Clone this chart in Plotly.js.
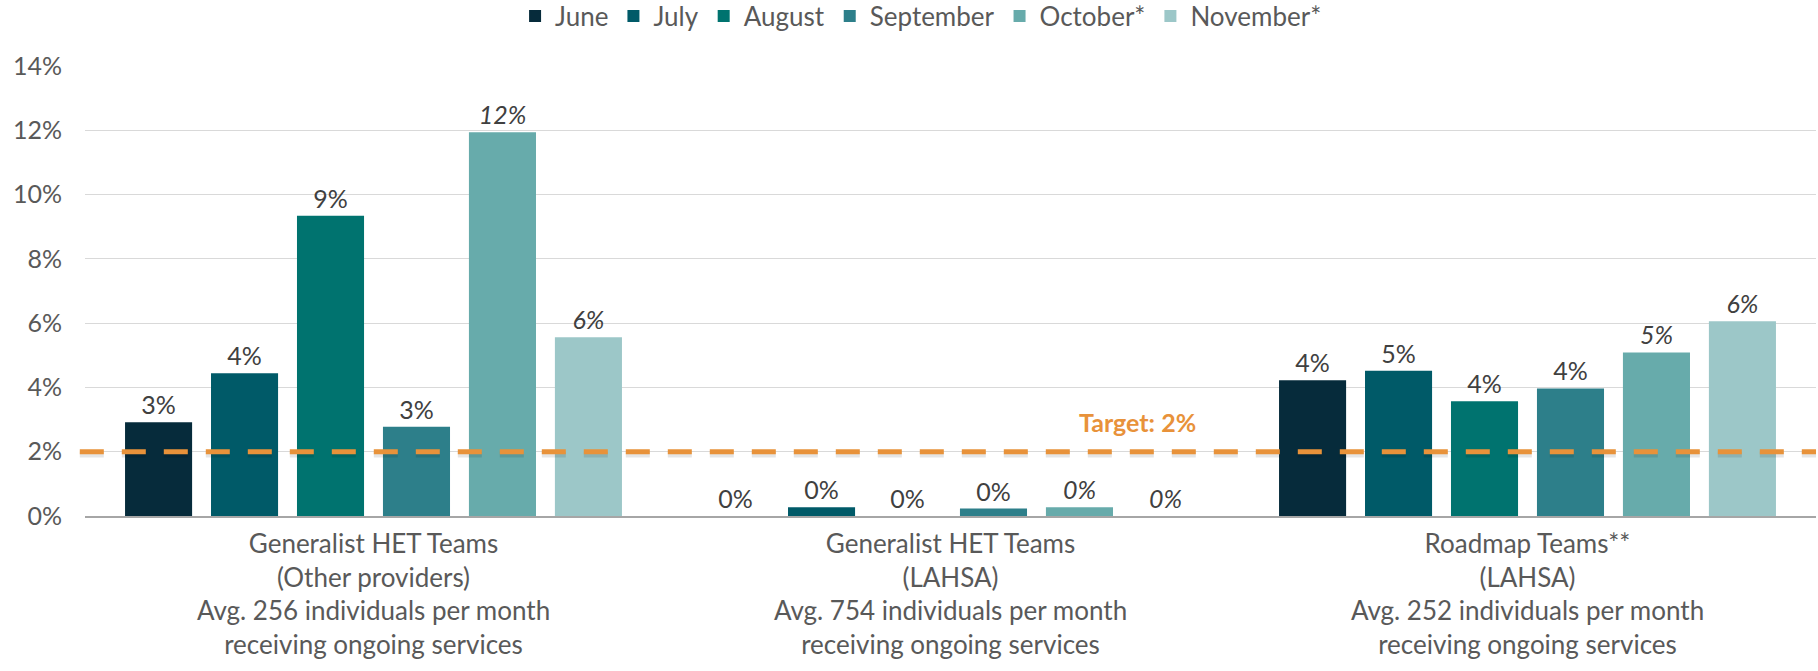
<!DOCTYPE html>
<html>
<head>
<meta charset="utf-8">
<script src="https://cdn.plot.ly/plotly-3.0.1.min.js"></script>
<style>html,body{margin:0;padding:0;background:#fff;}#chart{width:1818px;height:671px;}</style>
</head>
<body>
<div id="chart"></div>
<script>
// ---- data ----
const categories = [
  "Generalist HET Teams<br>(Other providers)<br>Avg. 256 individuals per month<br>receiving ongoing services",
  "Generalist HET Teams<br>(LAHSA)<br>Avg. 754 individuals per month<br>receiving ongoing services",
  "Roadmap Teams**<br>(LAHSA)<br>Avg. 252 individuals per month<br>receiving ongoing services"
];
const months = ["June", "July", "August", "September", "October*", "November*"];
const june      = [2.92, 0.00, 4.22];
const july      = [4.44, 0.27, 4.52];
const august    = [9.34, 0.00, 3.57];
const september = [2.78, 0.23, 3.97];
const october   = [11.94, 0.27, 5.09];
const november  = [5.56, 0.00, 6.06];
const target = 2;
const targetLabel = "Target: 2%";
const yTicks = [0, 2, 4, 6, 8, 10, 12, 14];

// ---- styles ----
const colors = ["#062B3B", "#005A68", "#00736F", "#2D7F8A", "#67ABAB", "#9CC7C8"];
const italic = [false, false, false, false, true, true];
const series = [june, july, august, september, october, november];
const FONT = "Lato, 'Source Sans Pro', 'Noto Sans', sans-serif";

const traces = series.map((vals, i) => ({
  type: "bar",
  name: months[i],
  x: categories,
  y: vals,
  marker: {color: colors[i]},
  texttemplate: "%{y:.0f}%",
  textposition: "outside",
  cliponaxis: false,
  textfont: {family: FONT, size: 25, color: "#404040", style: italic[i] ? "italic" : "normal"},
  hoverinfo: "skip"
}));

const layout = {
  width: 1818,
  height: 671,
  margin: {l: 85, r: 2, t: 66, b: 155, autoexpand: false},
  paper_bgcolor: "#ffffff",
  plot_bgcolor: "#ffffff",
  font: {family: FONT, size: 25, color: "#595959"},
  barmode: "group",
  bargap: 0.106,
  bargroupgap: 0.22,
  showlegend: true,
  legend: {
    orientation: "h",
    x: 0.483, xanchor: "center",
    y: 1.111, yref: "paper", yanchor: "middle",
    font: {family: FONT, size: 26, color: "#595959"},
    itemclick: false, itemdoubleclick: false,
    traceorder: "normal"
  },
  xaxis: {
    type: "category",
    showgrid: false,
    showline: true,
    linecolor: "#a6a6a6",
    linewidth: 1.5,
    ticks: "",
    ticklabelstandoff: 4,
    tickfont: {family: FONT, size: 26, color: "#595959"},
    automargin: false,
    fixedrange: true
  },
  yaxis: {
    range: [0, 14],
    tickvals: yTicks,
    ticktext: yTicks.map(v => v + "%"),
    showgrid: true,
    gridcolor: "#d9d9d9",
    gridwidth: 1,
    zeroline: false,
    showline: false,
    ticks: "",
    ticklabelstandoff: 22,
    tickfont: {family: FONT, size: 25, color: "#595959"},
    automargin: false,
    fixedrange: true
  },
  shapes: [
    {
      type: "line", xref: "paper", yref: "y",
      x0: -0.003, x1: 1.0, y0: target - 0.09, y1: target - 0.09,
      line: {color: "rgba(0,0,0,0.10)", width: 6, dash: "24px,18px"},
      layer: "above"
    },
    {
      type: "line", xref: "paper", yref: "y",
      x0: -0.003, x1: 1.0, y0: target, y1: target,
      line: {color: "#E8923A", width: 5, dash: "24px,18px"},
      layer: "above"
    }
  ],
  annotations: [
    {
      xref: "paper", yref: "y",
      x: 0.608, y: target + 0.92,
      text: "<b>" + targetLabel + "</b>",
      showarrow: false,
      font: {family: FONT, size: 25, color: "#E8923A"},
      xanchor: "center", yanchor: "middle"
    }
  ]
};

Plotly.newPlot("chart", traces, layout, {displayModeBar: false, staticPlot: true});
</script>
</body>
</html>
